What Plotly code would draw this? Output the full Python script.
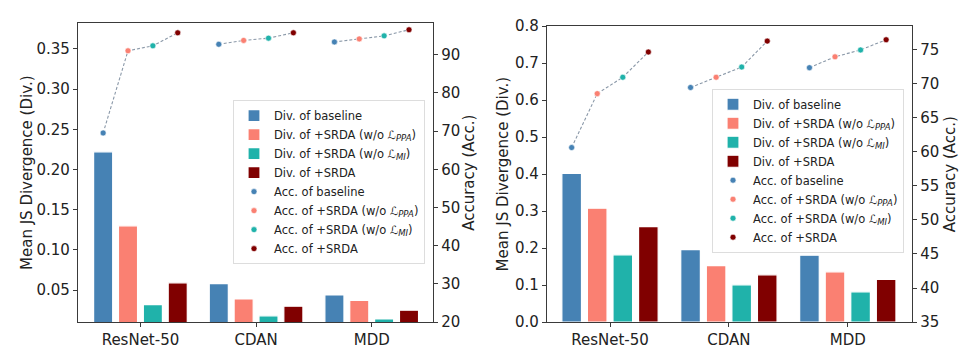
import plotly.graph_objects as go

categories = ["ResNet-50", "CDAN", "MDD"]
SUBSTYLE = "font-size:8.5px;font-style:italic;baseline-shift:-25%"
methods = [
    "baseline",
    f"+SRDA (w/o <i>ℒ</i><span style=\"{SUBSTYLE}\">PPA</span>)",
    f"+SRDA (w/o <i>ℒ</i><span style=\"{SUBSTYLE}\">MI</span>)",
    "+SRDA",
]
colors = ["#4682B4", "#FA8072", "#20B2AA", "#800000"]

# Left chart
div_left = [
    [0.222, 0.058, 0.044],
    [0.130, 0.039, 0.037],
    [0.032, 0.018, 0.014],
    [0.059, 0.030, 0.025],
]
acc_left = [
    [69.5, 92.7, 93.3],
    [91.0, 93.7, 94.1],
    [92.3, 94.3, 94.9],
    [95.7, 95.7, 96.5],
]
# Right chart
div_right = [
    [0.402, 0.196, 0.181],
    [0.308, 0.153, 0.136],
    [0.182, 0.101, 0.082],
    [0.258, 0.128, 0.116],
]
acc_right = [
    [60.6, 69.4, 72.3],
    [68.5, 70.9, 73.9],
    [70.9, 72.4, 74.9],
    [74.6, 76.2, 76.4],
]

STEP = 0.215
BW = 0.165
W, H = 966, 354
FONT = "DejaVu Sans"
AX = "#3a3a3a"

fig = go.Figure()


def add_panel(divs, accs, xa, ya, ya2, legend):
    idx = list(range(len(categories)))
    for j, m in enumerate(methods):
        xs = [i + (j - 1.5) * STEP for i in idx]
        fig.add_trace(go.Bar(
            x=xs, y=divs[j], width=BW, name="Div. of " + m,
            marker=dict(color=colors[j], line=dict(color="white", width=1.2)),
            xaxis=xa, yaxis=ya, legend=legend))
    lx, ly = [], []
    for i in idx:
        for j in range(len(methods)):
            lx.append(i + (j - 1.5) * STEP)
            ly.append(accs[j][i])
        lx.append(None)
        ly.append(None)
    fig.add_trace(go.Scatter(
        x=lx, y=ly, mode="lines", showlegend=False,
        line=dict(color="#8a98a8", width=1.1, dash="3px,2px"),
        xaxis=xa, yaxis=ya2, hoverinfo="skip"))
    for j, m in enumerate(methods):
        xs = [i + (j - 1.5) * STEP for i in idx]
        fig.add_trace(go.Scatter(
            x=xs, y=accs[j], mode="markers", name="Acc. of " + m,
            marker=dict(color=colors[j], size=6, line=dict(color="white", width=0.6)),
            xaxis=xa, yaxis=ya2, legend=legend))


add_panel(div_left, acc_left, "x", "y", "y2", "legend")
add_panel(div_right, acc_right, "x2", "y3", "y4", "legend2")

tickfont = dict(family=FONT, size=15, color="#222")
titlefont = dict(family=FONT, size=15, color="#222")

common_x = dict(tickmode="array", tickvals=[0, 1, 2], ticktext=categories,
                showline=True, linecolor=AX, linewidth=1.3, mirror=True,
                ticks="outside", ticklen=4, tickcolor=AX, tickfont=tickfont,
                showgrid=False, zeroline=False, range=[-0.54, 2.53])
common_y = dict(showline=True, linecolor=AX, linewidth=1.3, ticks="outside",
                ticklen=4, tickcolor=AX, tickfont=tickfont, showgrid=False,
                zeroline=False, title_font=titlefont)

yl0, yl1 = 1 - 330 / H, 1 - 15 / H
yr0, yr1 = 1 - 330 / H, 1 - 18 / H

legend_common = dict(xanchor="left", yanchor="top",
                     bgcolor="rgba(255,255,255,0.8)", bordercolor="#dddddd", borderwidth=1,
                     font=dict(family=FONT, size=11.5, color="#222"), tracegroupgap=0,
                     itemwidth=30)

fig.update_layout(
    width=W, height=H, margin=dict(l=0, r=0, t=0, b=0),
    paper_bgcolor="white", plot_bgcolor="white",
    barmode="overlay", font=dict(family=FONT, color="#222"),
    xaxis=dict(domain=[78 / W, 433 / W], anchor="y", **common_x),
    yaxis=dict(domain=[yl0, yl1], anchor="x", range=[0.01, 0.382],
               tickvals=[0.05, 0.10, 0.15, 0.20, 0.25, 0.30, 0.35], tickformat=".2f",
               title=dict(text="Mean JS Divergence (Div.)", standoff=0), mirror=True, **common_y),
    yaxis2=dict(overlaying="y", side="right", anchor="x", range=[20, 98.2],
                tickvals=[20, 30, 40, 50, 60, 70, 80, 90],
                title=dict(text="Accuracy (Acc.)", standoff=4), **common_y),
    xaxis2=dict(domain=[547 / W, 912 / W], anchor="y3", **{**common_x, "range": [-0.53, 2.54]}),
    yaxis3=dict(domain=[yr0, yr1], anchor="x2", range=[0, 0.8],
                tickvals=[0, 0.1, 0.2, 0.3, 0.4, 0.5, 0.6, 0.7, 0.8], tickformat=".1f",
                title=dict(text="Mean JS Divergence (Div.)", standoff=2), mirror=True, **common_y),
    yaxis4=dict(overlaying="y3", side="right", anchor="x2", range=[35, 78.4],
                tickvals=[35, 40, 45, 50, 55, 60, 65, 70, 75],
                title=dict(text="Accuracy (Acc.)", standoff=6), **common_y),
    legend=dict(x=233 / W, y=1 - 96 / H, **legend_common),
    legend2=dict(x=712 / W, y=1 - 84 / H, **legend_common),
)

fig.write_html("out.html")
